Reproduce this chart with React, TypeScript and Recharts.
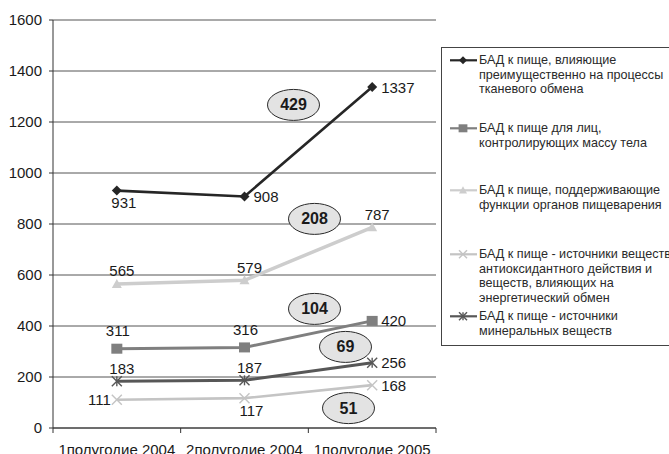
import React from 'react';
import { LineChart, Line, XAxis, YAxis, CartesianGrid, ReferenceDot } from 'recharts';

// Half-year periods on the category axis
const periods = ['1полугодие 2004', '2полугодие 2004', '1полугодие 2005'];

// Number of registered supplements per group
const tissueMetabolism = [931, 908, 1337];
const weightControl = [311, 316, 420];
const digestion = [565, 579, 787];
const antioxidant = [111, 117, 168];
const minerals = [183, 187, 256];

const yTicks = [0, 200, 400, 600, 800, 1000, 1200, 1400, 1600];

// Growth over the last half-year, shown in the oval badges
const growthValues = [429, 208, 104, 69, 51];
const growthLevels = [1267, 820, 467, 318, 78];
const growthShift = [49, 70, 70, 101, 104];

const FONT = '"Liberation Sans", Arial, Helvetica, sans-serif';
const W = 669;
const H = 454;
const MARGIN = { top: 20, right: 233, bottom: 0, left: 0 };
const Y_AXIS_W = 53;
const X_AXIS_H = 26;
const PLOT_W = W - MARGIN.left - MARGIN.right - Y_AXIS_W;

type Marker = 'diamond' | 'square' | 'triangle' | 'cross' | 'star';
type Place = 'above' | 'aboveHigh' | 'below' | 'left' | 'right';

interface Series {
  key: string;
  name: string[];
  values: number[];
  color: string;
  width: number;
  marker: Marker;
  places: Place[];
}

const series: Series[] = [
  {
    key: 'tissue',
    name: ['БАД к пище, влияющие', 'преимущественно на процессы', 'тканевого обмена'],
    values: tissueMetabolism,
    color: '#262626',
    width: 2.6,
    marker: 'diamond',
    places: ['below', 'right', 'right'],
  },
  {
    key: 'weight',
    name: ['БАД к пище для лиц,', 'контролирующих массу тела'],
    values: weightControl,
    color: '#7f7f7f',
    width: 3,
    marker: 'square',
    places: ['aboveHigh', 'aboveHigh', 'right'],
  },
  {
    key: 'digestion',
    name: ['БАД к пище, поддерживающие', 'функции органов пищеварения'],
    values: digestion,
    color: '#cdcdcd',
    width: 3.5,
    marker: 'triangle',
    places: ['above', 'above', 'above'],
  },
  {
    key: 'antioxidant',
    name: [
      'БАД к пище - источники веществ',
      'антиоксидантного действия и',
      'веществ, влияющих на',
      'энергетический обмен',
    ],
    values: antioxidant,
    color: '#c4c4c4',
    width: 2.6,
    marker: 'cross',
    places: ['left', 'below', 'right'],
  },
  {
    key: 'minerals',
    name: ['БАД к пище - источники', 'минеральных веществ'],
    values: minerals,
    color: '#575757',
    width: 3,
    marker: 'star',
    places: ['above', 'above', 'right'],
  },
];

const data = periods.map((period, i) => {
  const row: Record<string, string | number> = { period };
  series.forEach((s) => {
    row[s.key] = s.values[i];
  });
  return row;
});

function drawMarker(marker: Marker, cx: number, cy: number, color: string, size = 1) {
  const r = 5 * size;
  switch (marker) {
    case 'diamond':
      return (
        <polygon
          points={`${cx},${cy - r} ${cx + r},${cy} ${cx},${cy + r} ${cx - r},${cy}`}
          fill={color}
        />
      );
    case 'square':
      return <rect x={cx - 5.5 * size} y={cy - 5 * size} width={11 * size} height={10 * size} fill={color} />;
    case 'triangle':
      return (
        <polygon
          points={`${cx},${cy - r} ${cx + r},${cy + r * 0.8} ${cx - r},${cy + r * 0.8}`}
          fill={color}
        />
      );
    case 'cross':
      return (
        <g stroke={color} strokeWidth={1.4}>
          <line x1={cx - r} y1={cy - r} x2={cx + r} y2={cy + r} />
          <line x1={cx - r} y1={cy + r} x2={cx + r} y2={cy - r} />
        </g>
      );
    case 'star':
      return (
        <g stroke={color} strokeWidth={1.4}>
          <line x1={cx - r} y1={cy - r} x2={cx + r} y2={cy + r} />
          <line x1={cx - r} y1={cy + r} x2={cx + r} y2={cy - r} />
          <line x1={cx} y1={cy - r} x2={cx} y2={cy + r} />
        </g>
      );
  }
}

function makeDot(s: Series) {
  return (props: any) => {
    const { cx, cy, index } = props;
    if (cx == null || cy == null) return <g key={`${s.key}-d-${index}`} />;
    return <g key={`${s.key}-d-${index}`}>{drawMarker(s.marker, cx, cy, s.color)}</g>;
  };
}

function makeLabel(s: Series) {
  return (props: any) => {
    const { x, y, value, index } = props;
    const place = s.places[index];
    let tx = x;
    let ty = y;
    let anchor: 'start' | 'middle' | 'end' = 'middle';
    if (place === 'above') {
      tx = x + 5;
      ty = y - 13;
    } else if (place === 'aboveHigh') {
      tx = x + 1;
      ty = y - 18;
    } else if (place === 'below') {
      tx = x + 7;
      ty = y + 12;
    } else if (place === 'right') {
      tx = x + 9;
      anchor = 'start';
    } else if (place === 'left') {
      tx = x - 6;
      anchor = 'end';
    }
    return (
      <text
        key={`${s.key}-l-${index}`}
        x={tx}
        y={ty}
        textAnchor={anchor}
        dominantBaseline="central"
        fontFamily={FONT}
        fontSize={15}
        fill="#1a1a1a"
      >
        {value}
      </text>
    );
  };
}

const PeriodTick = (props: any) => {
  const { x, y, payload, index } = props;
  const half = PLOT_W / (periods.length * 2);
  return (
    <g>
      <line x1={x - half} x2={x - half} y1={y} y2={y + 5} stroke="#333" strokeWidth={1} />
      {index === periods.length - 1 && (
        <line x1={x + half} x2={x + half} y1={y} y2={y + 5} stroke="#333" strokeWidth={1} />
      )}
      <text x={x} y={y + 27} textAnchor="middle" fontFamily={FONT} fontSize={15} fill="#1a1a1a">
        {payload.value}
      </text>
    </g>
  );
};

const GrowthBadge = (shift: number, value: number) => (props: any) => {
  const { cx, cy } = props;
  if (cx == null || cy == null) return <g />;
  const x = cx + shift;
  return (
    <g>
      <ellipse cx={x} cy={cy} rx={26} ry={15.5} fill="#e3e3e3" stroke="#2a2a2a" strokeWidth={1} />
      <text
        x={x}
        y={cy}
        textAnchor="middle"
        dominantBaseline="central"
        fontFamily={FONT}
        fontWeight="bold"
        fontSize={16}
        fill="#1a1a1a"
      >
        {value}
      </text>
    </g>
  );
};

// Legend row offsets inside the legend frame
const legendRowTop = [5, 73, 135, 199, 261];
const LEGEND_LINE_H = 14.6;

const LegendBox = () => (
  <div
    style={{
      position: 'absolute',
      left: 441,
      top: 47,
      width: 250,
      height: 299,
      border: '1px solid #444',
      boxSizing: 'border-box',
      fontFamily: FONT,
      fontSize: 12.6,
      color: '#2a2a2a',
    }}
  >
    {series.map((s, i) => (
      <div key={s.key} style={{ position: 'absolute', left: 0, top: legendRowTop[i], width: 250 }}>
        <svg width={38} height={LEGEND_LINE_H} style={{ position: 'absolute', left: 0, top: 0 }}>
          <line x1={8} x2={35} y1={LEGEND_LINE_H / 2} y2={LEGEND_LINE_H / 2} stroke={s.color} strokeWidth={2.2} />
          {drawMarker(s.marker, 21, LEGEND_LINE_H / 2, s.color, 0.8)}
        </svg>
        <div style={{ position: 'absolute', left: 37, top: 0, lineHeight: `${LEGEND_LINE_H}px`, whiteSpace: 'nowrap' }}>
          {s.name.map((line) => (
            <div key={line}>{line}</div>
          ))}
        </div>
      </div>
    ))}
  </div>
);

export default function App() {
  return (
    <div
      style={{
        position: 'absolute',
        left: 0,
        top: 0,
        width: W,
        height: H,
        overflow: 'hidden',
        background: '#fff',
      }}
    >
      <LineChart width={W} height={H} data={data} margin={MARGIN}>
        <CartesianGrid vertical={false} stroke="#555" strokeWidth={1} />
        <XAxis
          dataKey="period"
          scale="band"
          height={X_AXIS_H}
          interval={0}
          tickLine={false}
          tickSize={0}
          tickMargin={0}
          axisLine={{ stroke: '#333', strokeWidth: 1 }}
          tick={<PeriodTick />}
        />
        <YAxis
          width={Y_AXIS_W}
          domain={[0, 1600]}
          ticks={yTicks}
          interval={0}
          tickSize={4}
          tickMargin={7}
          axisLine={{ stroke: '#333', strokeWidth: 1 }}
          tickLine={{ stroke: '#333', strokeWidth: 1 }}
          tick={{ fontFamily: FONT, fontSize: 15, fill: '#1a1a1a' }}
        />
        <YAxis
          yAxisId="frame"
          orientation="right"
          width={0}
          domain={[0, 1600]}
          tick={false}
          tickLine={false}
          axisLine={{ stroke: '#888', strokeWidth: 1.5 }}
        />
        {series.map((s) => (
          <Line
            key={s.key}
            dataKey={s.key}
            stroke={s.color}
            strokeWidth={s.width}
            dot={makeDot(s)}
            activeDot={false}
            label={makeLabel(s)}
            isAnimationActive={false}
          />
        ))}
        {growthValues.map((v, i) => (
          <ReferenceDot
            key={`g-${v}`}
            x={periods[1]}
            y={growthLevels[i]}
            r={0}
            shape={GrowthBadge(growthShift[i], v)}
          />
        ))}
      </LineChart>
      <LegendBox />
    </div>
  );
}
